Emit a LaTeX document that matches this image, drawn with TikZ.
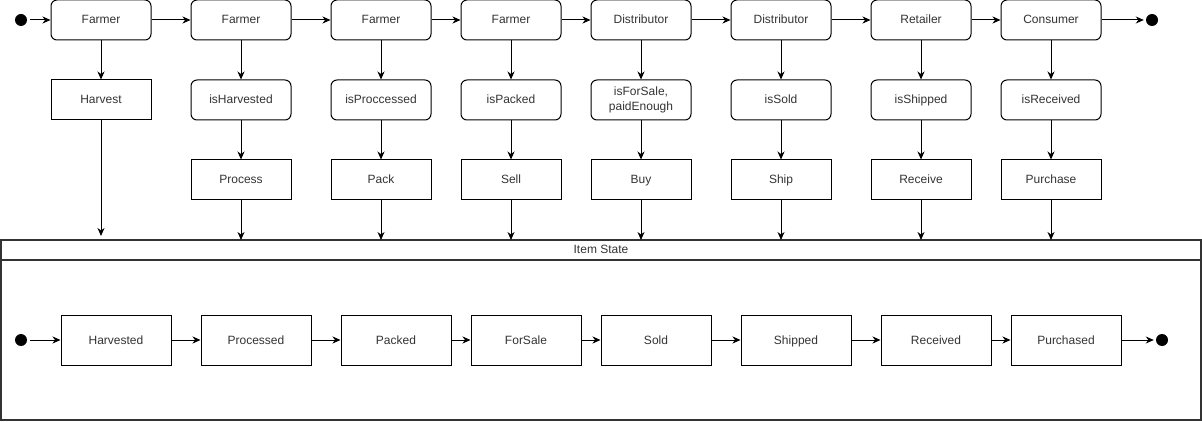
\documentclass[tikz,border=0pt]{standalone}
\usepackage{fontspec}
\setmainfont{Liberation Sans}
\usetikzlibrary{arrows.meta}
\begin{document}
\begin{tikzpicture}[x=1pt,y=-1pt,
  every node/.style={font=\fontsize{12}{14}\selectfont, text=black!80},
  oneline/.style={text height=10pt, text depth=2pt},
  roundbox/.style={draw, rounded corners=6pt, minimum width=100pt, minimum height=40pt, line width=1pt, align=center, inner sep=0pt},
  actorbox/.style={roundbox, oneline},
  actbox/.style={draw, minimum width=100pt, minimum height=40pt, line width=1pt, inner sep=0pt, oneline},
  statebox/.style={draw, minimum width=110pt, minimum height=50pt, line width=1pt, inner sep=0pt, oneline},
  enddot/.style={circle, fill=black, minimum size=12pt, inner sep=0pt},
  flow/.style={-{Stealth[length=8pt,width=7pt,inset=2.5pt]}, line width=1pt},
]
\useasboundingbox (0,0) rectangle (1202,422);

% actors along the supply chain
\node[enddot] (s0) at (21,20) {};
\node[actorbox] (a1) at (101,20) {Farmer};
\node[actorbox] (a2) at (241,20) {Farmer};
\node[actorbox] (a3) at (381,20) {Farmer};
\node[actorbox] (a4) at (511,20) {Farmer};
\node[actorbox] (a5) at (641,20) {Distributor};
\node[actorbox] (a6) at (781,20) {Distributor};
\node[actorbox] (a7) at (921,20) {Retailer};
\node[actorbox] (a8) at (1051,20) {Consumer};
\node[enddot] (e0) at (1152,20) {};

% guards
\node[actbox]   (g1) at (101,100) {Harvest};
\node[actorbox] (g2) at (241,100) {isHarvested};
\node[actorbox] (g3) at (381,100) {isProccessed};
\node[actorbox] (g4) at (511,100) {isPacked};
\node[roundbox, font=\fontsize{12}{15}\selectfont] (g5) at (641,100) {isForSale,\\paidEnough};
\node[actorbox] (g6) at (781,100) {isSold};
\node[actorbox] (g7) at (921,100) {isShipped};
\node[actorbox] (g8) at (1051,100) {isReceived};

% actions
\node[actbox] (f2) at (241,180) {Process};
\node[actbox] (f3) at (381,180) {Pack};
\node[actbox] (f4) at (511,180) {Sell};
\node[actbox] (f5) at (641,180) {Buy};
\node[actbox] (f6) at (781,180) {Ship};
\node[actbox] (f7) at (921,180) {Receive};
\node[actbox] (f8) at (1051,180) {Purchase};

% item state container
\node[draw=black!80, line width=1.6pt, minimum width=1200pt, minimum height=180pt,
      inner sep=0pt, outer sep=0pt, anchor=north west] (box) at (1,240) {};
\node[draw=black!80, line width=1.6pt, minimum width=1200pt, minimum height=20pt,
      inner sep=0pt, outer sep=0pt, anchor=north west, oneline] (hdr) at (1,240) {Item State};

% item states
\node[enddot] (s1) at (21,340) {};
\node[statebox] (t1) at (116,340) {Harvested};
\node[statebox] (t2) at (256,340) {Processed};
\node[statebox] (t3) at (396,340) {Packed};
\node[statebox] (t4) at (526,340) {ForSale};
\node[statebox] (t5) at (656,340) {Sold};
\node[statebox] (t6) at (796,340) {Shipped};
\node[statebox] (t7) at (936,340) {Received};
\node[statebox] (t8) at (1066,340) {Purchased};
\node[enddot] (e1) at (1162,340) {};

% top row connectors
\draw[flow, shorten <=3pt] (s0) -- (a1);
\foreach \i/\j in {1/2,2/3,3/4,4/5,5/6,6/7,7/8}
  \draw[flow] (a\i) -- (a\j);
\draw[flow, shorten >=2pt] (a8) -- (e0);

% vertical connectors
\foreach \i in {1,...,8}
  \draw[flow] (a\i) -- (g\i);
\foreach \i in {2,...,8}
  \draw[flow] (g\i) -- (f\i);
\draw[flow] (g1) -- ([yshift=4pt]g1.south |- box.north);
\foreach \i in {2,...,8}
  \draw[flow] (f\i) -- (f\i.south |- box.north);

% state row connectors
\draw[flow, shorten <=3pt] (s1) -- (t1);
\foreach \i/\j in {1/2,2/3,3/4,4/5,5/6,6/7,7/8}
  \draw[flow] (t\i) -- (t\j);
\draw[flow, shorten >=2pt] (t8) -- (e1);
\end{tikzpicture}
\end{document}
